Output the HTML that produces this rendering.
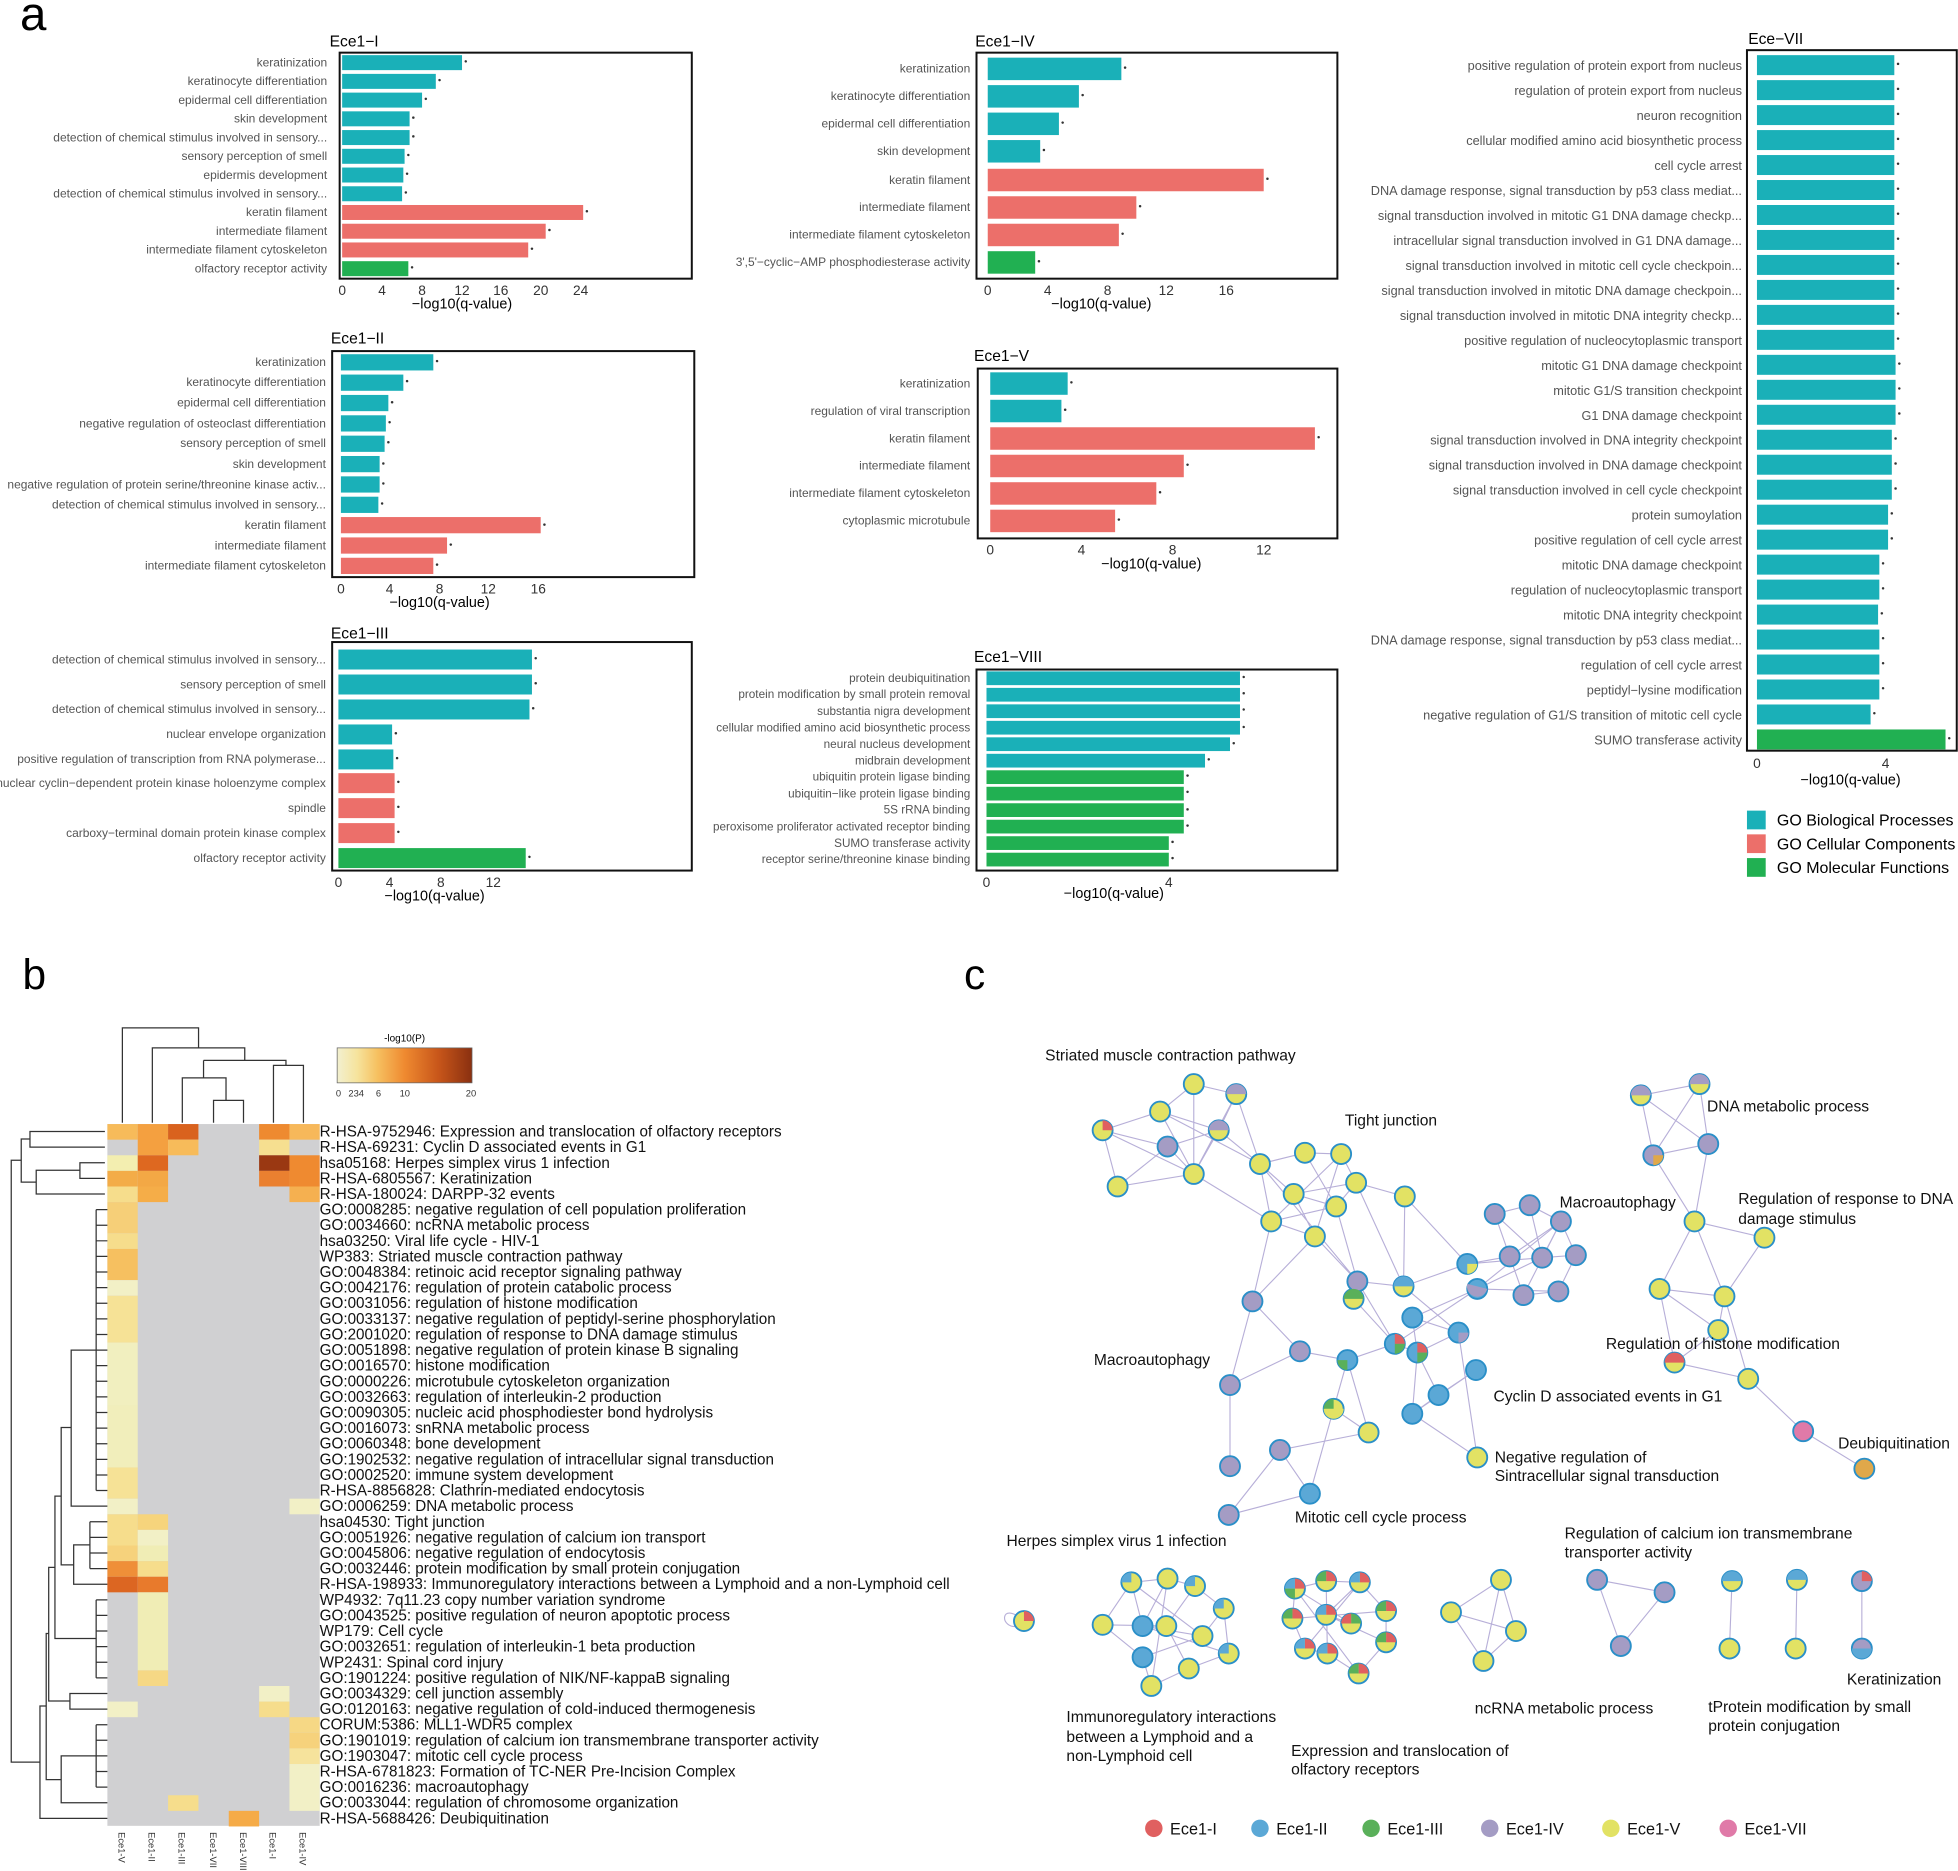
<!DOCTYPE html>
<html><head><meta charset="utf-8"><style>html,body{margin:0;padding:0;background:#fff}svg{display:block}</style></head>
<body>
<svg xmlns="http://www.w3.org/2000/svg" width="1958" height="1871" viewBox="0 0 1568 1498" font-family="Liberation Sans, Arial, sans-serif">
<rect width="1568" height="1498" fill="#fff"/>
<text x="16" y="24" font-size="38">a</text>
<text x="18" y="792" font-size="34">b</text>
<text x="772" y="792" font-size="34">c</text>

<!-- ===== Ece1-I ===== -->
<g>
<text x="264" y="37" font-size="12.5">Ece1−I</text>
<rect x="272" y="42" width="282" height="181" fill="none" stroke="#111" stroke-width="1.6"/>
<g fill="#1ab0b8">
<rect x="274" y="44" width="96" height="12"/><rect x="274" y="59" width="75" height="12"/><rect x="274" y="74" width="64" height="12"/><rect x="274" y="89" width="54" height="12"/><rect x="274" y="104" width="54" height="12"/><rect x="274" y="119" width="50" height="12"/><rect x="274" y="134" width="49" height="12"/><rect x="274" y="149" width="48" height="12"/></g>
<g fill="#ec6f6a"><rect x="274" y="164" width="193" height="12"/><rect x="274" y="179" width="163" height="12"/><rect x="274" y="194" width="149" height="12"/></g>
<rect x="274" y="209" width="53" height="12" fill="#21b052"/>
<g fill="#333"><circle cx="373" cy="49" r="1"/><circle cx="352" cy="64" r="1"/><circle cx="341" cy="79" r="1"/><circle cx="331" cy="94" r="1"/><circle cx="331" cy="109" r="1"/><circle cx="327" cy="124" r="1"/><circle cx="326" cy="139" r="1"/><circle cx="325" cy="154" r="1"/><circle cx="470" cy="169" r="1"/><circle cx="440" cy="184" r="1"/><circle cx="426" cy="199" r="1"/><circle cx="330" cy="214" r="1"/></g>
<g font-size="9.6" fill="#555" text-anchor="end">
<text x="262" y="53">keratinization</text><text x="262" y="68">keratinocyte differentiation</text><text x="262" y="83">epidermal cell differentiation</text><text x="262" y="98">skin development</text><text x="262" y="113">detection of chemical stimulus involved in sensory...</text><text x="262" y="128">sensory perception of smell</text><text x="262" y="143">epidermis development</text><text x="262" y="158">detection of chemical stimulus involved in sensory...</text><text x="262" y="173">keratin filament</text><text x="262" y="188">intermediate filament</text><text x="262" y="203">intermediate filament cytoskeleton</text><text x="262" y="218">olfactory receptor activity</text></g>
<g font-size="11" fill="#333" text-anchor="middle"><text x="274" y="236">0</text><text x="306" y="236">4</text><text x="338" y="236">8</text><text x="370" y="236">12</text><text x="401" y="236">16</text><text x="433" y="236">20</text><text x="465" y="236">24</text></g>
<text x="370" y="247" font-size="11.5" text-anchor="middle">−log10(q-value)</text>
</g>

<!-- ===== Ece1-II ===== -->
<g>
<text x="265" y="275" font-size="12.5">Ece1−II</text>
<rect x="266" y="281" width="290" height="181" fill="none" stroke="#111" stroke-width="1.6"/>
<g fill="#1ab0b8">
<rect x="273" y="283.5" width="74" height="13"/><rect x="273" y="299.8" width="50" height="13"/><rect x="273" y="316.1" width="38" height="13"/><rect x="273" y="332.4" width="36" height="13"/><rect x="273" y="348.7" width="35" height="13"/><rect x="273" y="365" width="31" height="13"/><rect x="273" y="381.3" width="31" height="13"/><rect x="273" y="397.6" width="30" height="13"/></g>
<g fill="#ec6f6a"><rect x="273" y="413.9" width="160" height="13"/><rect x="273" y="430.2" width="85" height="13"/><rect x="273" y="446.5" width="74" height="13"/></g>
<g fill="#333"><circle cx="350" cy="289" r="1"/><circle cx="326" cy="305" r="1"/><circle cx="314" cy="322" r="1"/><circle cx="312" cy="338" r="1"/><circle cx="311" cy="354" r="1"/><circle cx="307" cy="371" r="1"/><circle cx="307" cy="387" r="1"/><circle cx="306" cy="403" r="1"/><circle cx="436" cy="420" r="1"/><circle cx="361" cy="436" r="1"/><circle cx="350" cy="452" r="1"/></g>
<g font-size="9.6" fill="#555" text-anchor="end">
<text x="261" y="293">keratinization</text><text x="261" y="309">keratinocyte differentiation</text><text x="261" y="325.5">epidermal cell differentiation</text><text x="261" y="342">negative regulation of osteoclast differentiation</text><text x="261" y="358">sensory perception of smell</text><text x="261" y="374.5">skin development</text><text x="261" y="391">negative regulation of protein serine/threonine kinase activ...</text><text x="261" y="407">detection of chemical stimulus involved in sensory...</text><text x="261" y="423.5">keratin filament</text><text x="261" y="440">intermediate filament</text><text x="261" y="456">intermediate filament cytoskeleton</text></g>
<g font-size="11" fill="#333" text-anchor="middle"><text x="273" y="475">0</text><text x="312" y="475">4</text><text x="352" y="475">8</text><text x="391" y="475">12</text><text x="431" y="475">16</text></g>
<text x="352" y="486" font-size="11.5" text-anchor="middle">−log10(q-value)</text>
</g>

<!-- ===== Ece1-III ===== -->
<g>
<text x="265" y="511" font-size="12.5">Ece1−III</text>
<rect x="266" y="514" width="288" height="183" fill="none" stroke="#111" stroke-width="1.6"/>
<g fill="#1ab0b8">
<rect x="271" y="520" width="155" height="16"/><rect x="271" y="540" width="155" height="16"/><rect x="271" y="560" width="153" height="16"/><rect x="271" y="580" width="43" height="16"/><rect x="271" y="600" width="44" height="16"/></g>
<g fill="#ec6f6a"><rect x="271" y="619" width="45" height="16"/><rect x="271" y="639" width="45" height="16"/><rect x="271" y="659" width="45" height="16"/></g>
<rect x="271" y="679" width="150" height="16" fill="#21b052"/>
<g fill="#333"><circle cx="429" cy="527" r="1"/><circle cx="429" cy="547" r="1"/><circle cx="427" cy="567" r="1"/><circle cx="317" cy="587" r="1"/><circle cx="318" cy="607" r="1"/><circle cx="319" cy="626" r="1"/><circle cx="319" cy="646" r="1"/><circle cx="319" cy="666" r="1"/><circle cx="424" cy="686" r="1"/></g>
<g font-size="9.6" fill="#555" text-anchor="end">
<text x="261" y="531">detection of chemical stimulus involved in sensory...</text><text x="261" y="551">sensory perception of smell</text><text x="261" y="571">detection of chemical stimulus involved in sensory...</text><text x="261" y="591">nuclear envelope organization</text><text x="261" y="611">positive regulation of transcription from RNA polymerase...</text><text x="261" y="630">nuclear cyclin−dependent protein kinase holoenzyme complex</text><text x="261" y="650">spindle</text><text x="261" y="670">carboxy−terminal domain protein kinase complex</text><text x="261" y="690">olfactory receptor activity</text></g>
<g font-size="11" fill="#333" text-anchor="middle"><text x="271" y="710">0</text><text x="312" y="710">4</text><text x="353" y="710">8</text><text x="395" y="710">12</text></g>
<text x="348" y="721" font-size="11.5" text-anchor="middle">−log10(q-value)</text>
</g>

<!-- ===== Ece1-IV ===== -->
<g>
<text x="781" y="37" font-size="12.5">Ece1−IV</text>
<rect x="782" y="42" width="289" height="181" fill="none" stroke="#111" stroke-width="1.6"/>
<g fill="#1ab0b8"><rect x="791" y="46" width="107" height="18"/><rect x="791" y="68" width="73" height="18"/><rect x="791" y="90" width="57" height="18"/><rect x="791" y="112" width="42" height="18"/></g>
<g fill="#ec6f6a"><rect x="791" y="135" width="221" height="18"/><rect x="791" y="157" width="119" height="18"/><rect x="791" y="179" width="105" height="18"/></g>
<rect x="791" y="201" width="38" height="18" fill="#21b052"/>
<g fill="#333"><circle cx="901" cy="54" r="1"/><circle cx="867" cy="76" r="1"/><circle cx="851" cy="98" r="1"/><circle cx="836" cy="120" r="1"/><circle cx="1015" cy="143" r="1"/><circle cx="913" cy="165" r="1"/><circle cx="899" cy="187" r="1"/><circle cx="832" cy="209" r="1"/></g>
<g font-size="9.6" fill="#555" text-anchor="end">
<text x="777" y="58">keratinization</text><text x="777" y="80">keratinocyte differentiation</text><text x="777" y="102">epidermal cell differentiation</text><text x="777" y="124">skin development</text><text x="777" y="147">keratin filament</text><text x="777" y="169">intermediate filament</text><text x="777" y="191">intermediate filament cytoskeleton</text><text x="777" y="213">3',5'−cyclic−AMP phosphodiesterase activity</text></g>
<g font-size="11" fill="#333" text-anchor="middle"><text x="791" y="236">0</text><text x="839" y="236">4</text><text x="887" y="236">8</text><text x="934" y="236">12</text><text x="982" y="236">16</text></g>
<text x="882" y="247" font-size="11.5" text-anchor="middle">−log10(q-value)</text>
</g>

<!-- ===== Ece1-V ===== -->
<g>
<text x="780" y="289" font-size="12.5">Ece1−V</text>
<rect x="783" y="295" width="288" height="136" fill="none" stroke="#111" stroke-width="1.6"/>
<g fill="#1ab0b8"><rect x="793" y="298" width="62" height="18"/><rect x="793" y="320" width="57" height="18"/></g>
<g fill="#ec6f6a"><rect x="793" y="342" width="260" height="18"/><rect x="793" y="364" width="155" height="18"/><rect x="793" y="386" width="133" height="18"/><rect x="793" y="408" width="100" height="18"/></g>
<g fill="#333"><circle cx="858" cy="306" r="1"/><circle cx="853" cy="328" r="1"/><circle cx="1056" cy="350" r="1"/><circle cx="951" cy="372" r="1"/><circle cx="929" cy="394" r="1"/><circle cx="896" cy="416" r="1"/></g>
<g font-size="9.6" fill="#555" text-anchor="end">
<text x="777" y="310">keratinization</text><text x="777" y="332">regulation of viral transcription</text><text x="777" y="354">keratin filament</text><text x="777" y="376">intermediate filament</text><text x="777" y="398">intermediate filament cytoskeleton</text><text x="777" y="420">cytoplasmic microtubule</text></g>
<g font-size="11" fill="#333" text-anchor="middle"><text x="793" y="444">0</text><text x="866" y="444">4</text><text x="939" y="444">8</text><text x="1012" y="444">12</text></g>
<text x="922" y="455" font-size="11.5" text-anchor="middle">−log10(q-value)</text>
</g>

<!-- ===== Ece1-VIII ===== -->
<g>
<text x="780" y="530" font-size="12.5">Ece1−VIII</text>
<rect x="782" y="536" width="289" height="161" fill="none" stroke="#111" stroke-width="1.6"/>
<g fill="#1ab0b8"><rect x="790" y="537.5" width="203" height="11"/><rect x="790" y="550.7" width="203" height="11"/><rect x="790" y="563.9" width="203" height="11"/><rect x="790" y="577.1" width="203" height="11"/><rect x="790" y="590.3" width="195" height="11"/><rect x="790" y="603.5" width="175" height="11"/></g>
<g fill="#21b052"><rect x="790" y="616.7" width="158" height="11"/><rect x="790" y="629.9" width="158" height="11"/><rect x="790" y="643.1" width="158" height="11"/><rect x="790" y="656.3" width="158" height="11"/><rect x="790" y="669.5" width="146" height="11"/><rect x="790" y="682.7" width="146" height="11"/></g>
<g fill="#333"><circle cx="996" cy="542" r="1"/><circle cx="996" cy="555" r="1"/><circle cx="996" cy="568" r="1"/><circle cx="996" cy="582" r="1"/><circle cx="988" cy="595" r="1"/><circle cx="968" cy="608" r="1"/><circle cx="951" cy="621" r="1"/><circle cx="951" cy="634" r="1"/><circle cx="951" cy="648" r="1"/><circle cx="951" cy="661" r="1"/><circle cx="939" cy="674" r="1"/><circle cx="939" cy="687" r="1"/></g>
<g font-size="9.4" fill="#555" text-anchor="end">
<text x="777" y="546">protein deubiquitination</text><text x="777" y="559">protein modification by small protein removal</text><text x="777" y="572.5">substantia nigra development</text><text x="777" y="585.5">cellular modified amino acid biosynthetic process</text><text x="777" y="599">neural nucleus development</text><text x="777" y="612">midbrain development</text><text x="777" y="625">ubiquitin protein ligase binding</text><text x="777" y="638.5">ubiquitin−like protein ligase binding</text><text x="777" y="651.5">5S rRNA binding</text><text x="777" y="665">peroxisome proliferator activated receptor binding</text><text x="777" y="678">SUMO transferase activity</text><text x="777" y="691">receptor serine/threonine kinase binding</text></g>
<g font-size="11" fill="#333" text-anchor="middle"><text x="790" y="710">0</text><text x="936" y="710">4</text></g>
<text x="892" y="719" font-size="11.5" text-anchor="middle">−log10(q-value)</text>
</g>

<!-- ===== Ece-VII ===== -->
<g>
<text x="1400" y="35" font-size="12.5">Ece−VII</text>
<rect x="1399" y="40" width="168" height="561" fill="none" stroke="#111" stroke-width="1.6"/>
<g fill="#1ab0b8">
<rect x="1407" y="44" width="110" height="16"/><rect x="1407" y="64" width="110" height="16"/><rect x="1407" y="84" width="110" height="16"/><rect x="1407" y="104" width="110" height="16"/><rect x="1407" y="124" width="110" height="16"/><rect x="1407" y="144" width="110" height="16"/><rect x="1407" y="164" width="110" height="16"/><rect x="1407" y="184" width="110" height="16"/><rect x="1407" y="204" width="110" height="16"/><rect x="1407" y="224" width="110" height="16"/><rect x="1407" y="244" width="110" height="16"/><rect x="1407" y="264" width="110" height="16"/><rect x="1407" y="284" width="111" height="16"/><rect x="1407" y="304" width="111" height="16"/><rect x="1407" y="324" width="111" height="16"/><rect x="1407" y="344" width="108" height="16"/><rect x="1407" y="364" width="108" height="16"/><rect x="1407" y="384" width="108" height="16"/><rect x="1407" y="404" width="105" height="16"/><rect x="1407" y="424" width="105" height="16"/><rect x="1407" y="444" width="98" height="16"/><rect x="1407" y="464" width="98" height="16"/><rect x="1407" y="484" width="97" height="16"/><rect x="1407" y="504" width="98" height="16"/><rect x="1407" y="524" width="98" height="16"/><rect x="1407" y="544" width="98" height="16"/><rect x="1407" y="564" width="91" height="16"/></g>
<rect x="1407" y="584" width="151" height="16" fill="#21b052"/>
<g fill="#333"><circle cx="1520" cy="51" r="1"/><circle cx="1520" cy="71" r="1"/><circle cx="1520" cy="91" r="1"/><circle cx="1520" cy="111" r="1"/><circle cx="1520" cy="131" r="1"/><circle cx="1520" cy="151" r="1"/><circle cx="1520" cy="171" r="1"/><circle cx="1520" cy="191" r="1"/><circle cx="1520" cy="211" r="1"/><circle cx="1520" cy="231" r="1"/><circle cx="1520" cy="251" r="1"/><circle cx="1520" cy="271" r="1"/><circle cx="1521" cy="291" r="1"/><circle cx="1521" cy="311" r="1"/><circle cx="1521" cy="331" r="1"/><circle cx="1518" cy="351" r="1"/><circle cx="1518" cy="371" r="1"/><circle cx="1518" cy="391" r="1"/><circle cx="1515" cy="411" r="1"/><circle cx="1515" cy="431" r="1"/><circle cx="1508" cy="451" r="1"/><circle cx="1508" cy="471" r="1"/><circle cx="1507" cy="491" r="1"/><circle cx="1508" cy="511" r="1"/><circle cx="1508" cy="531" r="1"/><circle cx="1508" cy="551" r="1"/><circle cx="1501" cy="571" r="1"/><circle cx="1561" cy="591" r="1"/></g>
<g font-size="10.2" fill="#555" text-anchor="end">
<text x="1395" y="56">positive regulation of protein export from nucleus</text>
<text x="1395" y="76">regulation of protein export from nucleus</text>
<text x="1395" y="96">neuron recognition</text>
<text x="1395" y="116">cellular modified amino acid biosynthetic process</text>
<text x="1395" y="136">cell cycle arrest</text>
<text x="1395" y="156">DNA damage response, signal transduction by p53 class mediat...</text>
<text x="1395" y="176">signal transduction involved in mitotic G1 DNA damage checkp...</text>
<text x="1395" y="196">intracellular signal transduction involved in G1 DNA damage...</text>
<text x="1395" y="216">signal transduction involved in mitotic cell cycle checkpoin...</text>
<text x="1395" y="236">signal transduction involved in mitotic DNA damage checkpoin...</text>
<text x="1395" y="256">signal transduction involved in mitotic DNA integrity checkp...</text>
<text x="1395" y="276">positive regulation of nucleocytoplasmic transport</text>
<text x="1395" y="296">mitotic G1 DNA damage checkpoint</text>
<text x="1395" y="316">mitotic G1/S transition checkpoint</text>
<text x="1395" y="336">G1 DNA damage checkpoint</text>
<text x="1395" y="356">signal transduction involved in DNA integrity checkpoint</text>
<text x="1395" y="376">signal transduction involved in DNA damage checkpoint</text>
<text x="1395" y="396">signal transduction involved in cell cycle checkpoint</text>
<text x="1395" y="416">protein sumoylation</text>
<text x="1395" y="436">positive regulation of cell cycle arrest</text>
<text x="1395" y="456">mitotic DNA damage checkpoint</text>
<text x="1395" y="476">regulation of nucleocytoplasmic transport</text>
<text x="1395" y="496">mitotic DNA integrity checkpoint</text>
<text x="1395" y="516">DNA damage response, signal transduction by p53 class mediat...</text>
<text x="1395" y="536">regulation of cell cycle arrest</text>
<text x="1395" y="556">peptidyl−lysine modification</text>
<text x="1395" y="576">negative regulation of G1/S transition of mitotic cell cycle</text>
<text x="1395" y="596">SUMO transferase activity</text></g>
<g font-size="11" fill="#333" text-anchor="middle"><text x="1407" y="615">0</text><text x="1510" y="615">4</text></g>
<text x="1482" y="628" font-size="11.5" text-anchor="middle">−log10(q-value)</text>
<rect x="1399" y="649" width="15" height="15" fill="#1ab0b8"/><rect x="1399" y="668" width="15" height="15" fill="#ec6f6a"/><rect x="1399" y="687" width="15" height="15" fill="#21b052"/>
<g font-size="12.8"><text x="1423" y="661">GO Biological Processes</text><text x="1423" y="680">GO Cellular Components</text><text x="1423" y="699">GO Molecular Functions</text></g>
</g>

<!-- ===== Panel b heatmap ===== -->
<g>
<rect x="86" y="900" width="170" height="562" fill="#d0d0d2"/>
<g>
<rect x="86" y="900" width="24.3" height="12.5" fill="#f7bb5a"/>
<rect x="86" y="925" width="24.3" height="12.5" fill="#f3eeb0"/>
<rect x="86" y="937.5" width="24.3" height="12.5" fill="#f3ac48"/>
<rect x="86" y="950" width="24.3" height="12.5" fill="#f6dd8c"/>
<rect x="86" y="962.5" width="24.3" height="25" fill="#f6cf78"/>
<rect x="86" y="987.5" width="24.3" height="12.5" fill="#f6dd8c"/>
<rect x="86" y="1000" width="24.3" height="25" fill="#f6c060"/>
<rect x="86" y="1025" width="24.3" height="12.5" fill="#f2f0c6"/>
<rect x="86" y="1037.5" width="24.3" height="37.5" fill="#f6e296"/>
<rect x="86" y="1075" width="24.3" height="50" fill="#f1efbf"/>
<rect x="86" y="1125" width="24.3" height="50" fill="#f1eebb"/>
<rect x="86" y="1175" width="24.3" height="25" fill="#f6e296"/>
<rect x="86" y="1200" width="24.3" height="12.5" fill="#f2f0c6"/>
<rect x="86" y="1212.5" width="24.3" height="25" fill="#f6dd8c"/>
<rect x="86" y="1237.5" width="24.3" height="12.5" fill="#f6d27c"/>
<rect x="86" y="1250" width="24.3" height="12.5" fill="#ef8f38"/>
<rect x="86" y="1262.5" width="24.3" height="12.5" fill="#dc6622"/>
<rect x="86" y="1362.5" width="24.3" height="12.5" fill="#f2f0c6"/>
</g>
<g>
<rect x="110.3" y="900" width="24.3" height="25" fill="#f4a040"/>
<rect x="110.3" y="925" width="24.3" height="12.5" fill="#de6820"/>
<rect x="110.3" y="937.5" width="24.3" height="12.5" fill="#f3a845"/>
<rect x="110.3" y="950" width="24.3" height="12.5" fill="#f5ad48"/>
<rect x="110.3" y="1212.5" width="24.3" height="12.5" fill="#f6d47c"/>
<rect x="110.3" y="1225" width="24.3" height="12.5" fill="#f2f0c6"/>
<rect x="110.3" y="1237.5" width="24.3" height="12.5" fill="#f0edb5"/>
<rect x="110.3" y="1250" width="24.3" height="12.5" fill="#f6dd8c"/>
<rect x="110.3" y="1262.5" width="24.3" height="12.5" fill="#e87a2c"/>
<rect x="110.3" y="1275" width="24.3" height="62.5" fill="#f0edb5"/>
<rect x="110.3" y="1337.5" width="24.3" height="12.5" fill="#f6d885"/>
</g>
<rect x="134.6" y="900" width="24.3" height="12.5" fill="#d9621e"/>
<rect x="134.6" y="912.5" width="24.3" height="12.5" fill="#f7bb5a"/>
<rect x="134.6" y="1437.5" width="24.3" height="12.5" fill="#f6dd8c"/>
<rect x="183.2" y="1450" width="24.3" height="12.5" fill="#f5ab48"/>
<rect x="207.5" y="900" width="24.3" height="12.5" fill="#ee8a30"/>
<rect x="207.5" y="912.5" width="24.3" height="12.5" fill="#f6df90"/>
<rect x="207.5" y="925" width="24.3" height="12.5" fill="#9a3812"/>
<rect x="207.5" y="937.5" width="24.3" height="12.5" fill="#ea8030"/>
<rect x="207.5" y="1350" width="24.3" height="12.5" fill="#f2f0c6"/>
<rect x="207.5" y="1362.5" width="24.3" height="12.5" fill="#f6dd8c"/>
<rect x="231.8" y="900" width="24.2" height="12.5" fill="#f7b85a"/>
<rect x="231.8" y="925" width="24.2" height="25" fill="#ef8a30"/>
<rect x="231.8" y="950" width="24.2" height="12.5" fill="#f5b050"/>
<rect x="231.8" y="1200" width="24.2" height="12.5" fill="#f2f0c6"/>
<rect x="231.8" y="1375" width="24.2" height="12.5" fill="#f6d885"/>
<rect x="231.8" y="1387.5" width="24.2" height="12.5" fill="#f6d27c"/>
<rect x="231.8" y="1400" width="24.2" height="12.5" fill="#f6e39c"/>
<rect x="231.8" y="1412.5" width="24.2" height="37.5" fill="#f2f0c6"/>

<g fill="none" stroke="#333" stroke-width="1">
<path d="M98,899V823H159V839"/>
<path d="M122,899V839H196V849"/>
<path d="M163,849H229V853"/>
<path d="M146,899V863H181V881"/>
<path d="M163,849V863"/>
<path d="M171,899V881H195V899"/>
<path d="M219,899V853H243V899"/>
</g>
<g fill="none" stroke="#333" stroke-width="1">
<path d="M84,906H24V918.5H84"/>
<path d="M84,931H64V943.5H84"/>
<path d="M64,937H29V956H84"/>
<path d="M24,912H17V946.5H29"/>
<path d="M17,929H9V1411H32"/>
<path d="M77,968.5V1193.5"/>
<path d="M77,968.5H86M77,981H86M77,993.5H86M77,1006H86M77,1018.5H86M77,1031H86M77,1043.5H86M77,1056H86M77,1068.5H86M77,1081H86M77,1093.5H86M77,1106H86M77,1118.5H86M77,1131H86M77,1143.5H86M77,1156H86M77,1168.5H86M77,1181H86M77,1193.5H86"/>
<path d="M77,1081H57V1206H86"/>
<path d="M72,1218.5V1256M72,1218.5H86M72,1231H86M72,1243.5H86M72,1256H86"/>
<path d="M72,1237H59V1268.5H86"/>
<path d="M57,1143H49V1253H59"/>
<path d="M77,1281V1343.5M77,1281H86M77,1293.5H86M77,1306H86M77,1318.5H86M77,1331H86M77,1343.5H86"/>
<path d="M49,1198H44V1312H77"/>
<path d="M86,1356H56V1368.5H86"/>
<path d="M44,1255H39V1362H56"/>
<path d="M77,1381V1431M77,1381H86M77,1393.5H86M77,1406H86M77,1418.5H86M77,1431H86"/>
<path d="M77,1406H49V1443.5H86"/>
<path d="M39,1308H37V1425H49"/>
<path d="M37,1366H32V1456H86"/>
</g>
<defs><linearGradient id="hg" x1="0" x2="1"><stop offset="0" stop-color="#f2f0d0"/><stop offset="0.15" stop-color="#f6e39c"/><stop offset="0.3" stop-color="#f6c060"/><stop offset="0.5" stop-color="#ef8a30"/><stop offset="0.75" stop-color="#c8561a"/><stop offset="1" stop-color="#8a3010"/></linearGradient></defs>
<text x="324" y="834" font-size="8" text-anchor="middle">-log10(P)</text>
<rect x="270" y="839" width="108" height="28" fill="url(#hg)" stroke="#666" stroke-width="0.6"/>
<g font-size="7.5" fill="#333"><text x="269" y="878">0</text><text x="279" y="878">234</text><text x="301" y="878">6</text><text x="320" y="878">10</text><text x="373" y="878">20</text></g>
<g font-size="12.2" fill="#111">
<text x="256" y="910">R-HSA-9752946: Expression and translocation of olfactory receptors</text>
<text x="256" y="922.5">R-HSA-69231: Cyclin D associated events in G1</text>
<text x="256" y="935">hsa05168: Herpes simplex virus 1 infection</text>
<text x="256" y="947.5">R-HSA-6805567: Keratinization</text>
<text x="256" y="960">R-HSA-180024: DARPP-32 events</text>
<text x="256" y="972.5">GO:0008285: negative regulation of cell population proliferation</text>
<text x="256" y="985">GO:0034660: ncRNA metabolic process</text>
<text x="256" y="997.5">hsa03250: Viral life cycle - HIV-1</text>
<text x="256" y="1010">WP383: Striated muscle contraction pathway</text>
<text x="256" y="1022.5">GO:0048384: retinoic acid receptor signaling pathway</text>
<text x="256" y="1035">GO:0042176: regulation of protein catabolic process</text>
<text x="256" y="1047.5">GO:0031056: regulation of histone modification</text>
<text x="256" y="1060">GO:0033137: negative regulation of peptidyl-serine phosphorylation</text>
<text x="256" y="1072.5">GO:2001020: regulation of response to DNA damage stimulus</text>
<text x="256" y="1085">GO:0051898: negative regulation of protein kinase B signaling</text>
<text x="256" y="1097.5">GO:0016570: histone modification</text>
<text x="256" y="1110">GO:0000226: microtubule cytoskeleton organization</text>
<text x="256" y="1122.5">GO:0032663: regulation of interleukin-2 production</text>
<text x="256" y="1135">GO:0090305: nucleic acid phosphodiester bond hydrolysis</text>
<text x="256" y="1147.5">GO:0016073: snRNA metabolic process</text>
<text x="256" y="1160">GO:0060348: bone development</text>
<text x="256" y="1172.5">GO:1902532: negative regulation of intracellular signal transduction</text>
<text x="256" y="1185">GO:0002520: immune system development</text>
<text x="256" y="1197.5">R-HSA-8856828: Clathrin-mediated endocytosis</text>
<text x="256" y="1210">GO:0006259: DNA metabolic process</text>
<text x="256" y="1222.5">hsa04530: Tight junction</text>
<text x="256" y="1235">GO:0051926: negative regulation of calcium ion transport</text>
<text x="256" y="1247.5">GO:0045806: negative regulation of endocytosis</text>
<text x="256" y="1260">GO:0032446: protein modification by small protein conjugation</text>
<text x="256" y="1272.5">R-HSA-198933: Immunoregulatory interactions between a Lymphoid and a non-Lymphoid cell</text>
<text x="256" y="1285">WP4932: 7q11.23 copy number variation syndrome</text>
<text x="256" y="1297.5">GO:0043525: positive regulation of neuron apoptotic process</text>
<text x="256" y="1310">WP179: Cell cycle</text>
<text x="256" y="1322.5">GO:0032651: regulation of interleukin-1 beta production</text>
<text x="256" y="1335">WP2431: Spinal cord injury</text>
<text x="256" y="1347.5">GO:1901224: positive regulation of NIK/NF-kappaB signaling</text>
<text x="256" y="1360">GO:0034329: cell junction assembly</text>
<text x="256" y="1372.5">GO:0120163: negative regulation of cold-induced thermogenesis</text>
<text x="256" y="1385">CORUM:5386: MLL1-WDR5 complex</text>
<text x="256" y="1397.5">GO:1901019: regulation of calcium ion transmembrane transporter activity</text>
<text x="256" y="1410">GO:1903047: mitotic cell cycle process</text>
<text x="256" y="1422.5">R-HSA-6781823: Formation of TC-NER Pre-Incision Complex</text>
<text x="256" y="1435">GO:0016236: macroautophagy</text>
<text x="256" y="1447.5">GO:0033044: regulation of chromosome organization</text>
<text x="256" y="1460">R-HSA-5688426: Deubiquitination</text>
</g>
<g font-size="7.5" fill="#333">
<text transform="translate(95,1467) rotate(90)">Ece1-V</text>
<text transform="translate(119,1467) rotate(90)">Ece1-II</text>
<text transform="translate(143,1467) rotate(90)">Ece1-III</text>
<text transform="translate(168,1467) rotate(90)">Ece1-VII</text>
<text transform="translate(192,1467) rotate(90)">Ece1-VIII</text>
<text transform="translate(216,1467) rotate(90)">Ece1-I</text>
<text transform="translate(240,1467) rotate(90)">Ece1-IV</text>
</g>
</g>

<!-- ===== Panel c network ===== -->
<g fill="none" stroke="#7b6db8" stroke-opacity="0.55" stroke-width="0.9">
<path d="M883,905L929,890L956,868L990,876L976,905L935,918L883,905L895,950L935,918L956,940L929,890L976,905L956,940L895,950M956,868L956,940M990,876L956,940M929,890L1009,932M976,905L1009,932M883,905L956,940M990,876L1009,932"/>
<path d="M1009,932L1045,923L1074,924L1086,947L1125,958L1124,1030L1087,1026L1053,990L1018,978L1009,932L1036,956L1070,966L1086,947L1036,956L1053,990L1074,924L1018,978L1070,966L1087,1026M1045,923L1070,966M1009,932L1087,1026M1086,947L1124,1030M1125,958L1175,1012M1124,1030L1175,1012M956,940L1018,978M1053,990L1003,1042M1018,978L1003,1042"/>
<path d="M1197,972L1225,965L1250,978L1262,1005L1248,1034L1220,1037L1209,1006L1197,972L1235,1007L1250,978L1220,1037M1225,965L1235,1007L1262,1005M1209,1006L1250,978M1175,1012L1235,1007L1183,1032L1250,978M1175,1012L1209,1006M1183,1032L1248,1034M1183,1032L1131,1055"/>
<path d="M1087,1026L1117,1076M1084,1040L1117,1076L1135,1083L1131,1055L1168,1067L1135,1083L1152,1117L1182,1097L1131,1132L1152,1117M1117,1076L1079,1089L1068,1128L1096,1147M1079,1089L1096,1147M1135,1083L1131,1132M1168,1067L1183,1167M1131,1132L1183,1167M1117,1076L1183,1032M1124,1030L1168,1067"/>
<path d="M1003,1042L1041,1082L985,1109L985,1174M1041,1082L1079,1089M1003,1042L985,1109M1025,1161L984,1213M1025,1161L1049,1196L984,1213M1025,1161L1096,1147M1049,1196L1068,1128"/>
<path d="M1314,877L1361,868L1368,916L1324,925L1314,877L1368,916M1361,868L1324,925M1324,925L1357,978L1368,916M1357,978L1413,991L1381,1038L1357,978L1329,1032L1381,1038L1376,1065L1341,1091L1400,1104L1381,1038M1329,1032L1341,1091M1329,1032L1376,1065M1400,1104L1444,1146L1493,1176"/>
<path d="M906,1267L935,1264L957,1270L980,1288L984,1324L952,1336L922,1350L915,1327L883,1301L906,1267L915,1302L934,1302L957,1270M935,1264L915,1302L963,1310L980,1288M883,1301L934,1302L952,1336M906,1267L963,1310L915,1327M915,1302L984,1324M935,1264L922,1350"/>
<path d="M1037,1272L1062,1266L1089,1267L1110,1290L1110,1315L1088,1340L1063,1324L1045,1320L1035,1296L1037,1272L1082,1300L1062,1293L1089,1267M1062,1266L1063,1324M1035,1296L1110,1290M1045,1320L1089,1267M1037,1272L1088,1340M1110,1315L1062,1293"/>
<path d="M1162,1291L1202,1265L1214,1306L1188,1330L1162,1291L1214,1306M1202,1265L1188,1330M1279,1265L1333,1275L1298,1318L1279,1265M1387,1266L1385,1320M1439,1265L1438,1320M1491,1266L1491,1320"/>
<path d="M820,1298C800,1280 800,1306 816,1302"/>
</g>
<g stroke="#2a8fc8" stroke-width="1.5">
<g fill="#e2e264">
<circle cx="883" cy="905" r="8"/><circle cx="929" cy="890" r="8"/><circle cx="956" cy="868" r="8"/><circle cx="990" cy="876" r="8"/><circle cx="976" cy="905" r="8"/><circle cx="895" cy="950" r="8"/><circle cx="956" cy="940" r="8"/>
<circle cx="1009" cy="932" r="8"/><circle cx="1045" cy="923" r="8"/><circle cx="1074" cy="924" r="8"/><circle cx="1036" cy="956" r="8"/><circle cx="1086" cy="947" r="8"/><circle cx="1070" cy="966" r="8"/><circle cx="1125" cy="958" r="8"/><circle cx="1018" cy="978" r="8"/><circle cx="1053" cy="990" r="8"/><circle cx="1124" cy="1030" r="8"/>
<circle cx="1084" cy="1040" r="8"/><circle cx="1068" cy="1128" r="8"/><circle cx="1096" cy="1147" r="8"/><circle cx="1183" cy="1167" r="8"/>
<circle cx="1314" cy="877" r="8"/><circle cx="1361" cy="868" r="8"/>
<circle cx="1357" cy="978" r="8"/><circle cx="1413" cy="991" r="8"/><circle cx="1329" cy="1032" r="8"/><circle cx="1381" cy="1038" r="8"/><circle cx="1376" cy="1065" r="8"/><circle cx="1341" cy="1091" r="8"/><circle cx="1400" cy="1104" r="8"/>
<circle cx="820" cy="1298" r="8"/>
<circle cx="906" cy="1267" r="8"/><circle cx="935" cy="1264" r="8"/><circle cx="957" cy="1270" r="8"/><circle cx="883" cy="1301" r="8"/><circle cx="934" cy="1302" r="8"/><circle cx="980" cy="1288" r="8"/><circle cx="963" cy="1310" r="8"/><circle cx="952" cy="1336" r="8"/><circle cx="922" cy="1350" r="8"/><circle cx="984" cy="1324" r="8"/>
<circle cx="1037" cy="1272" r="8"/><circle cx="1062" cy="1266" r="8"/><circle cx="1089" cy="1267" r="8"/><circle cx="1035" cy="1296" r="8"/><circle cx="1062" cy="1293" r="8"/><circle cx="1082" cy="1300" r="8"/><circle cx="1110" cy="1290" r="8"/><circle cx="1045" cy="1320" r="8"/><circle cx="1110" cy="1315" r="8"/><circle cx="1063" cy="1324" r="8"/><circle cx="1088" cy="1340" r="8"/>
<circle cx="1162" cy="1291" r="8"/><circle cx="1202" cy="1265" r="8"/><circle cx="1214" cy="1306" r="8"/><circle cx="1188" cy="1330" r="8"/>
<circle cx="1387" cy="1266" r="8"/><circle cx="1385" cy="1320" r="8"/><circle cx="1439" cy="1265" r="8"/><circle cx="1438" cy="1320" r="8"/>
</g>
<g fill="#a49cc4">
<circle cx="935" cy="918" r="8"/><circle cx="1087" cy="1026" r="8"/>
<circle cx="1197" cy="972" r="8"/><circle cx="1225" cy="965" r="8"/><circle cx="1250" cy="978" r="8"/><circle cx="1209" cy="1006" r="8"/><circle cx="1235" cy="1007" r="8"/><circle cx="1262" cy="1005" r="8"/><circle cx="1220" cy="1037" r="8"/><circle cx="1248" cy="1034" r="8"/>
<circle cx="1003" cy="1042" r="8"/><circle cx="1041" cy="1082" r="8"/><circle cx="985" cy="1109" r="8"/><circle cx="985" cy="1174" r="8"/><circle cx="1025" cy="1161" r="8"/><circle cx="984" cy="1213" r="8"/>
<circle cx="1324" cy="925" r="8"/><circle cx="1368" cy="916" r="8"/>
<circle cx="1279" cy="1265" r="8"/><circle cx="1333" cy="1275" r="8"/><circle cx="1298" cy="1318" r="8"/><circle cx="1491" cy="1266" r="8"/><circle cx="1491" cy="1320" r="8"/>
</g>
<g fill="#5ba8d6">
<circle cx="1175" cy="1012" r="8"/><circle cx="1183" cy="1032" r="8"/><circle cx="1131" cy="1055" r="8"/><circle cx="1168" cy="1067" r="8"/><circle cx="1117" cy="1076" r="8"/><circle cx="1135" cy="1083" r="8"/><circle cx="1079" cy="1089" r="8"/><circle cx="1182" cy="1097" r="8"/><circle cx="1152" cy="1117" r="8"/><circle cx="1131" cy="1132" r="8"/><circle cx="1049" cy="1196" r="8"/>
<circle cx="915" cy="1302" r="8"/><circle cx="915" cy="1327" r="8"/>
</g>
<circle cx="1444" cy="1146" r="8" fill="#e07aa8"/>
<circle cx="1493" cy="1176" r="8" fill="#e0a84a"/>
</g>
<g stroke="none">
<path d="M883,905L883,897A8,8 0 0 1 891,905Z" fill="#e06060"/>
<path d="M982,876A8,8 0 0 1 998,876Z" fill="#a49cc4"/>
<path d="M968,905A8,8 0 0 1 984,905Z" fill="#a49cc4"/>
<path d="M1306,877A8,8 0 0 1 1322,877Z" fill="#a49cc4"/>
<path d="M1353,868A8,8 0 0 1 1369,868Z" fill="#a49cc4"/>
<path d="M1116,1030A8,8 0 0 1 1132,1030Z" fill="#5ba8d6"/>
<path d="M1324,925L1324,933A8,8 0 0 0 1332,925Z" fill="#e0a84a"/>
<path d="M1076,1040A8,8 0 0 1 1092,1040Z" fill="#5ab05a"/>
<path d="M1117,1076L1117,1068A8,8 0 0 1 1125,1076Z" fill="#e06060"/>
<path d="M1117,1076L1125,1076A8,8 0 0 1 1117,1084Z" fill="#5ab05a"/>
<path d="M1135,1083L1135,1075A8,8 0 0 1 1143,1083Z" fill="#e06060"/>
<path d="M1135,1083L1143,1083A8,8 0 0 1 1135,1091Z" fill="#5ab05a"/>
<path d="M1079,1089L1071,1089A8,8 0 0 0 1079,1097Z" fill="#5ab05a"/>
<path d="M1060,1128A8,8 0 0 0 1076,1128Z" fill="#e2e264"/>
<path d="M1068,1128L1060,1128A8,8 0 0 1 1068,1120Z" fill="#5ab05a"/>
<path d="M1168,1067L1176,1067A8,8 0 0 1 1168,1075Z" fill="#a49cc4"/>
<path d="M1175,1012L1175,1020A8,8 0 0 0 1183,1012Z" fill="#e2e264"/>
<path d="M1175,1028A8,8 0 0 0 1191,1032Z" fill="#a49cc4"/>
<path d="M1341,1091L1333,1091A8,8 0 0 1 1349,1091Z" fill="#e06060"/>
<path d="M820,1298L820,1290A8,8 0 0 1 828,1298Z" fill="#e06060"/>
<path d="M1379,1266A8,8 0 0 1 1395,1266Z" fill="#5ba8d6"/>
<path d="M1431,1265A8,8 0 0 1 1447,1265Z" fill="#5ba8d6"/>
<path d="M1491,1266L1491,1258A8,8 0 0 1 1499,1266Z" fill="#e06060"/>
<path d="M1483,1320A8,8 0 0 0 1499,1320Z" fill="#5ba8d6"/>
<path d="M1037,1272L1037,1264A8,8 0 0 1 1045,1272Z" fill="#e06060"/><path d="M1037,1272L1029,1272A8,8 0 0 1 1037,1264Z" fill="#5ba8d6"/><path d="M1037,1272L1037,1280A8,8 0 0 1 1029,1272Z" fill="#5ab05a"/>
<path d="M1062,1266L1062,1258A8,8 0 0 1 1070,1266Z" fill="#e06060"/><path d="M1062,1266L1054,1266A8,8 0 0 1 1062,1258Z" fill="#5ab05a"/>
<path d="M1089,1267L1089,1259A8,8 0 0 1 1097,1267Z" fill="#e06060"/><path d="M1089,1267L1081,1267A8,8 0 0 1 1089,1259Z" fill="#5ba8d6"/>
<path d="M1035,1296L1035,1288A8,8 0 0 1 1043,1296Z" fill="#e06060"/><path d="M1035,1296L1027,1296A8,8 0 0 1 1035,1288Z" fill="#5ab05a"/>
<path d="M1062,1293L1062,1285A8,8 0 0 1 1070,1293Z" fill="#e06060"/><path d="M1062,1293L1054,1293A8,8 0 0 1 1062,1285Z" fill="#5ba8d6"/>
<path d="M1082,1300L1082,1292A8,8 0 0 1 1090,1300Z" fill="#5ab05a"/><path d="M1082,1300L1074,1300A8,8 0 0 1 1082,1292Z" fill="#e06060"/>
<path d="M1110,1290L1110,1282A8,8 0 0 1 1118,1290Z" fill="#e06060"/><path d="M1110,1290L1102,1290A8,8 0 0 1 1110,1282Z" fill="#5ab05a"/>
<path d="M1045,1320L1045,1312A8,8 0 0 1 1053,1320Z" fill="#e06060"/><path d="M1045,1320L1037,1320A8,8 0 0 1 1045,1312Z" fill="#5ba8d6"/>
<path d="M1110,1315L1110,1307A8,8 0 0 1 1118,1315Z" fill="#e06060"/><path d="M1110,1315L1102,1315A8,8 0 0 1 1110,1307Z" fill="#5ab05a"/>
<path d="M1063,1324L1063,1316A8,8 0 0 1 1071,1324Z" fill="#e06060"/><path d="M1063,1324L1055,1324A8,8 0 0 1 1063,1316Z" fill="#5ba8d6"/>
<path d="M1088,1340L1088,1332A8,8 0 0 1 1096,1340Z" fill="#e06060"/><path d="M1088,1340L1080,1340A8,8 0 0 1 1088,1332Z" fill="#5ab05a"/>
<path d="M906,1267L898,1267A8,8 0 0 1 906,1259Z" fill="#5ba8d6"/>
<path d="M957,1270L949,1270A8,8 0 0 1 957,1262Z" fill="#5ba8d6"/>
<path d="M980,1288L972,1288A8,8 0 0 1 980,1280Z" fill="#5ba8d6"/>
<path d="M984,1324L976,1324A8,8 0 0 1 984,1316Z" fill="#5ba8d6"/>
</g>
<g font-size="12.5" fill="#111">
<text x="837" y="849">Striated muscle contraction pathway</text>
<text x="1077" y="901">Tight junction</text>
<text x="1367" y="890">DNA metabolic process</text>
<text x="1249" y="967">Macroautophagy</text>
<text x="1392" y="964">Regulation of response to DNA</text>
<text x="1392" y="980">damage stimulus</text>
<text x="876" y="1093">Macroautophagy</text>
<text x="1286" y="1080">Regulation of histone modification</text>
<text x="1196" y="1122">Cyclin D associated events in G1</text>
<text x="1472" y="1160">Deubiquitination</text>
<text x="1197" y="1171">Negative regulation of</text>
<text x="1197" y="1186">Sintracellular signal transduction</text>
<text x="1037" y="1219">Mitotic cell cycle process</text>
<text x="806" y="1238">Herpes simplex virus 1 infection</text>
<text x="1253" y="1232">Regulation of calcium ion transmembrane</text>
<text x="1253" y="1247">transporter activity</text>
<text x="1479" y="1349">Keratinization</text>
<text x="1181" y="1372">ncRNA metabolic process</text>
<text x="1368" y="1371">tProtein modification by small</text>
<text x="1368" y="1386">protein conjugation</text>
<text x="854" y="1379">Immunoregulatory interactions</text>
<text x="854" y="1395">between a Lymphoid and a</text>
<text x="854" y="1410">non-Lymphoid cell</text>
<text x="1034" y="1406">Expression and translocation of</text>
<text x="1034" y="1421">olfactory receptors</text>
</g>
<circle cx="924" cy="1464" r="7" fill="#e06060"/><circle cx="1009" cy="1464" r="7" fill="#5ba8d6"/><circle cx="1098" cy="1464" r="7" fill="#5ab05a"/><circle cx="1193" cy="1464" r="7" fill="#a49cc4"/><circle cx="1290" cy="1464" r="7" fill="#e2e264"/><circle cx="1384" cy="1464" r="7" fill="#e07aa8"/>
<g font-size="13" fill="#111"><text x="937" y="1469">Ece1-I</text><text x="1022" y="1469">Ece1-II</text><text x="1111" y="1469">Ece1-III</text><text x="1206" y="1469">Ece1-IV</text><text x="1303" y="1469">Ece1-V</text><text x="1397" y="1469">Ece1-VII</text></g>
</svg>
</body></html>
